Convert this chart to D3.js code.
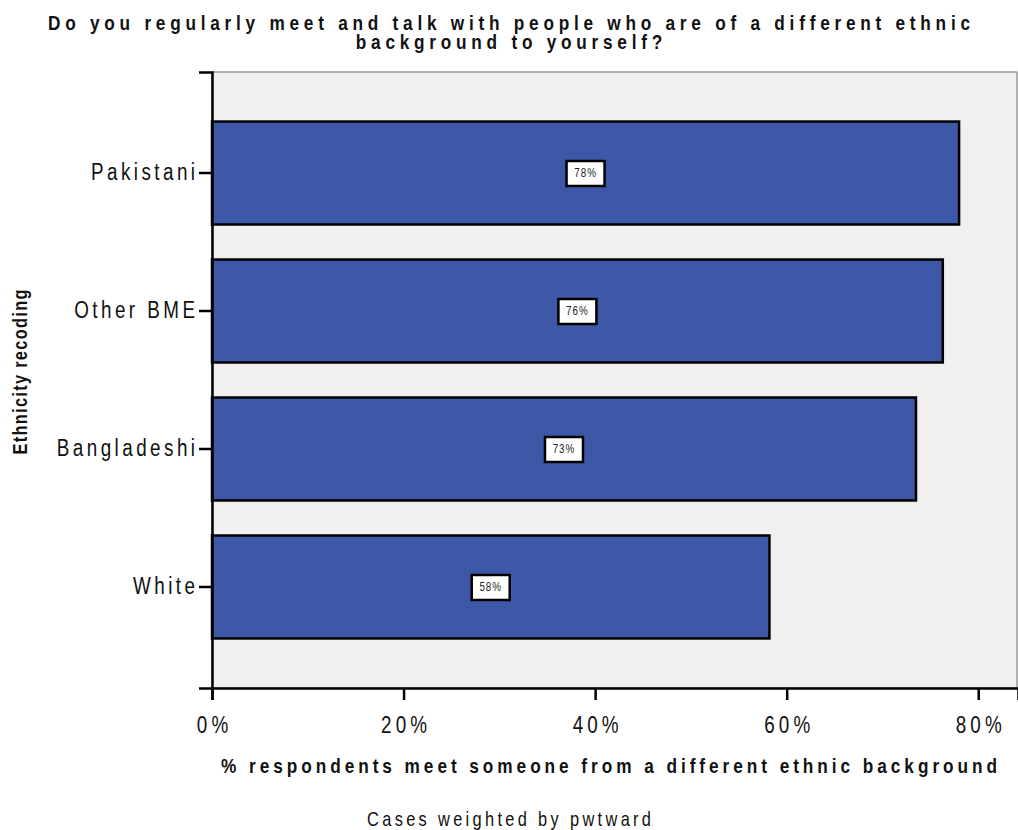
<!DOCTYPE html>
<html>
<head>
<meta charset="utf-8">
<script src="https://cdn.jsdelivr.net/npm/d3@7"></script>
<style>
  html, body { margin: 0; padding: 0; background: #fff; }
  svg { display: block; font-family: "Liberation Sans", Arial, sans-serif; }
</style>
</head>
<body>
<svg id="chart" width="1018" height="830"></svg>
<script>
// Share of respondents who regularly meet people of a different ethnic background
const categories = ["Pakistani", "Other BME", "Bangladeshi", "White"];
const values = [0.780, 0.763, 0.735, 0.582];
const valueLabels = ["78%", "76%", "73%", "58%"];
const xTicks = [0, 0.2, 0.4, 0.6, 0.8];

const titleLines = [
  "Do you regularly meet and talk with people who are of a different ethnic",
  "background to yourself?"
];
const xTitle = "% respondents meet someone from a different ethnic background";
const yTitle = "Ethnicity recoding";
const footnote = "Cases weighted by pwtward";

// all text is set in a condensed, letter-spaced face
const NARROW = 0.82;

const svg = d3.select("#chart");
const plot = { left: 212, right: 1018, top: 72, bottom: 688 };

const x = d3.scaleLinear()
  .domain([0, (plot.right - plot.left) / 957.8])
  .range([plot.left, plot.right]);

const y = d3.scaleBand()
  .domain(categories)
  .range([plot.top, plot.bottom])
  .paddingInner(0.254)
  .paddingOuter(0.359);

// plot background
svg.append("rect")
  .attr("x", plot.left).attr("y", plot.top)
  .attr("width", plot.right - plot.left - 1)
  .attr("height", plot.bottom - plot.top)
  .attr("fill", "#f0f0f0")
  .attr("stroke", "#6a6a6a")
  .attr("stroke-width", 1);

// bars
svg.append("g").selectAll("rect")
  .data(categories)
  .join("rect")
  .attr("x", x(0))
  .attr("y", d => y(d))
  .attr("width", (d, i) => x(values[i]) - x(0))
  .attr("height", y.bandwidth())
  .attr("fill", "#3e58a8")
  .attr("stroke", "#000")
  .attr("stroke-width", 2.5);

// value labels in boxes
const lab = svg.append("g").selectAll("g")
  .data(categories)
  .join("g")
  .attr("transform", (d, i) => `translate(${x(values[i] / 2)},${y(d) + y.bandwidth() / 2})`);
lab.append("rect")
  .attr("x", -19).attr("y", -12)
  .attr("width", 38).attr("height", 25)
  .attr("fill", "#fff")
  .attr("stroke", "#000")
  .attr("stroke-width", 2.5);
lab.append("text")
  .attr("text-anchor", "middle")
  .attr("dy", "0.36em")
  .attr("font-size", 12)
  .attr("letter-spacing", 1.2)
  .attr("transform", `scale(${NARROW},1)`)
  .attr("fill", "#222")
  .text((d, i) => valueLabels[i]);

// x axis
const xAxis = svg.append("g")
  .attr("transform", `translate(0,${plot.bottom})`)
  .call(d3.axisBottom(x).tickValues(xTicks).tickFormat(d3.format(".0%")).tickSize(12).tickPadding(17));
xAxis.select(".domain").attr("stroke", "#000").attr("stroke-width", 2.5);
xAxis.selectAll(".tick line").attr("stroke", "#000").attr("stroke-width", 2.5);
xAxis.selectAll(".tick text")
  .attr("font-size", 23)
  .attr("letter-spacing", 5)
  .attr("dx", 2.5)
  .attr("transform", `scale(${NARROW},1)`)
  .attr("fill", "#111")
  .attr("font-family", "Liberation Sans, Arial, sans-serif");

// y axis
const yTickSize = 13, yTickPad = 4;
const yAxis = svg.append("g")
  .attr("transform", `translate(${plot.left},0)`)
  .call(d3.axisLeft(y).tickSize(yTickSize).tickPadding(yTickPad));
yAxis.select(".domain").attr("stroke", "#000").attr("stroke-width", 2.5);
yAxis.selectAll(".tick line").attr("stroke", "#000").attr("stroke-width", 2.5);
yAxis.selectAll(".tick text")
  .attr("font-size", 23)
  .attr("letter-spacing", 4.2)
  .attr("x", -(yTickSize + yTickPad) / NARROW + 4.2)
  .attr("transform", `scale(${NARROW},1)`)
  .attr("fill", "#111")
  .attr("font-family", "Liberation Sans, Arial, sans-serif");

// title: spacing fitted so the first line spans the chart width
const titleG = svg.append("g").attr("transform", `translate(509,0) scale(${NARROW},1)`);
const title = titleG.selectAll("text")
  .data(titleLines)
  .join("text")
  .attr("x", 0)
  .attr("y", (d, i) => 30 + i * 19)
  .attr("text-anchor", "middle")
  .attr("font-size", 21)
  .attr("font-weight", "bold")
  .attr("fill", "#111")
  .text(d => d);
const firstLen = title.nodes()[0].getComputedTextLength();
const titleSpacing = (922 / NARROW - firstLen) / (titleLines[0].length - 1);
title.attr("letter-spacing", titleSpacing).attr("dx", titleSpacing / 2);

// condensed single-line text stretched to a given width
function condensedText(tx, ty, rot, width, size, weight, str) {
  svg.append("g")
    .attr("transform", `translate(${tx},${ty}) rotate(${rot}) scale(${NARROW},1)`)
    .append("text")
    .attr("text-anchor", "middle")
    .attr("font-size", size)
    .attr("font-weight", weight)
    .attr("fill", "#111")
    .attr("textLength", width / NARROW)
    .attr("lengthAdjust", "spacing")
    .text(str);
}

condensedText(609, 773, 0, 776, 21, "bold", xTitle);
condensedText(27, 372, -90, 165, 20, "bold", yTitle);
condensedText(509, 826, 0, 284, 20, "normal", footnote);
</script>
</body>
</html>
